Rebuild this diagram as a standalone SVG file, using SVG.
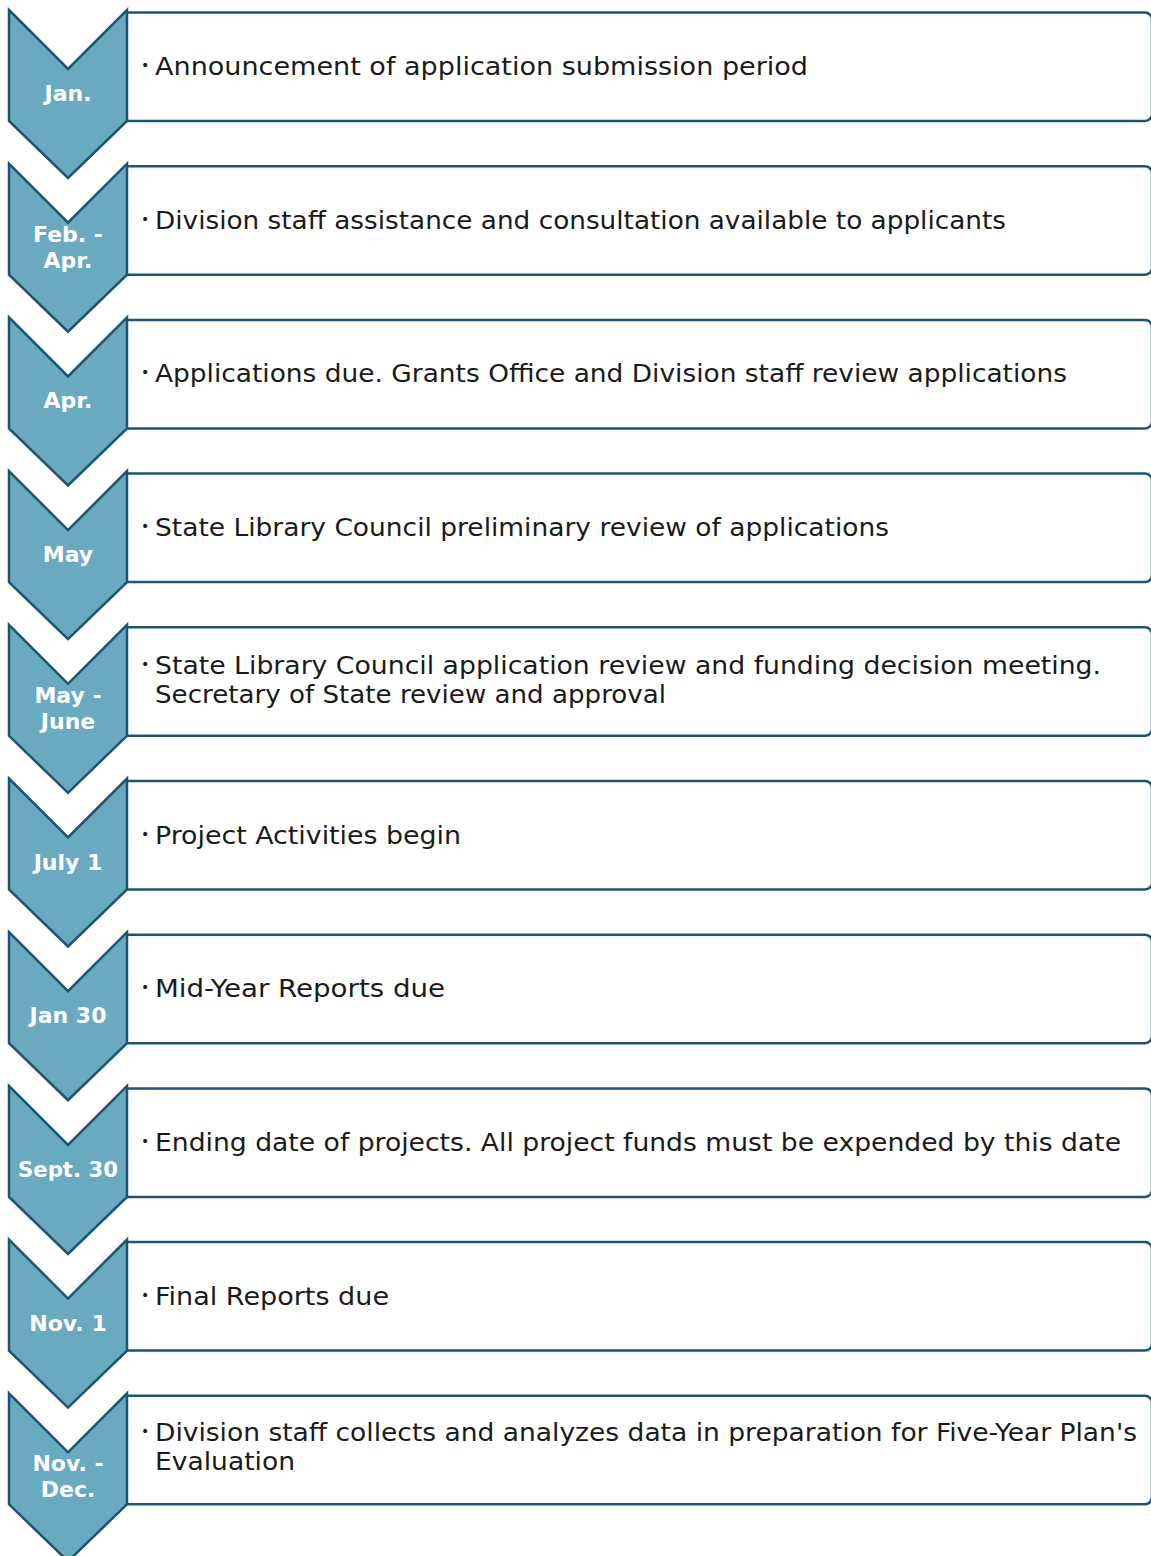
<svg xmlns="http://www.w3.org/2000/svg" width="1151" height="1556" viewBox="0 0 1151 1556">
<style>
.chev{fill:#6AAAC0;stroke:#1E5470;stroke-width:2.5;stroke-linejoin:miter}
.box{fill:#FFFFFF;stroke:#1E5470;stroke-width:2.5}
.lbl{font-family:"DejaVu Sans","Liberation Sans",sans-serif;font-weight:bold;font-size:22px;fill:#FFFFFF;text-anchor:middle}
.txt{font-family:"DejaVu Sans","Liberation Sans",sans-serif;font-size:24px;fill:#1A1A1A}
.bul{font-family:"DejaVu Sans","Liberation Sans",sans-serif;font-size:14px;fill:#1A1A1A}
</style>
<defs>
<path id="boxShape" class="box" d="M127,2.5 H1145 A7,7 0 0 1 1152,9.5 V104 A7,7 0 0 1 1145,111 H127"/>
<polygon id="chevShape" class="chev" points="9,0 68,59 127,0 127,111 68,168 9,111"/>
</defs>
<rect width="1151" height="1556" fill="#FFFFFF"/>
<g id="connectors"></g>

<g id="step1" transform="translate(0,10)">
<use href="#boxShape"/><use href="#chevShape"/>
<text class="lbl" x="68" y="91">Jan.</text>
<text class="bul" x="141" y="60">•</text>
<text class="txt" x="155" y="65" textLength="653" lengthAdjust="spacingAndGlyphs">Announcement of application submission period</text>
</g>

<g id="step2" transform="translate(0,163.7)">
<use href="#boxShape"/><use href="#chevShape"/>
<text class="lbl" x="68" y="78">Feb. -</text>
<text class="lbl" x="68" y="104">Apr.</text>
<text class="bul" x="141" y="60">•</text>
<text class="txt" x="155" y="65" textLength="851" lengthAdjust="spacingAndGlyphs">Division staff assistance and consultation available to applicants</text>
</g>

<g id="step3" transform="translate(0,317.4)">
<use href="#boxShape"/><use href="#chevShape"/>
<text class="lbl" x="68" y="91">Apr.</text>
<text class="bul" x="141" y="60">•</text>
<text class="txt" x="155" y="65" textLength="912" lengthAdjust="spacingAndGlyphs">Applications due. Grants Office and Division staff review applications</text>
</g>

<g id="step4" transform="translate(0,471.1)">
<use href="#boxShape"/><use href="#chevShape"/>
<text class="lbl" x="68" y="91">May</text>
<text class="bul" x="141" y="60">•</text>
<text class="txt" x="155" y="65" textLength="734" lengthAdjust="spacingAndGlyphs">State Library Council preliminary review of applications</text>
</g>

<g id="step5" transform="translate(0,624.8)">
<use href="#boxShape"/><use href="#chevShape"/>
<text class="lbl" x="68" y="78">May -</text>
<text class="lbl" x="68" y="104">June</text>
<text class="bul" x="141" y="44">•</text>
<text class="txt" x="155" y="49" textLength="946" lengthAdjust="spacingAndGlyphs">State Library Council application review and funding decision meeting.</text>
<text class="txt" x="155" y="78" textLength="511" lengthAdjust="spacingAndGlyphs">Secretary of State review and approval</text>
</g>

<g id="step6" transform="translate(0,778.5)">
<use href="#boxShape"/><use href="#chevShape"/>
<text class="lbl" x="68" y="91">July 1</text>
<text class="bul" x="141" y="60">•</text>
<text class="txt" x="155" y="65" textLength="306" lengthAdjust="spacingAndGlyphs">Project Activities begin</text>
</g>

<g id="step7" transform="translate(0,932.2)">
<use href="#boxShape"/><use href="#chevShape"/>
<text class="lbl" x="68" y="91">Jan 30</text>
<text class="bul" x="141" y="60">•</text>
<text class="txt" x="155" y="65" textLength="290" lengthAdjust="spacingAndGlyphs">Mid-Year Reports due</text>
</g>

<g id="step8" transform="translate(0,1085.9)">
<use href="#boxShape"/><use href="#chevShape"/>
<text class="lbl" x="68" y="91" textLength="100" lengthAdjust="spacingAndGlyphs">Sept. 30</text>
<text class="bul" x="141" y="60">•</text>
<text class="txt" x="155" y="65" textLength="966" lengthAdjust="spacingAndGlyphs">Ending date of projects. All project funds must be expended by this date</text>
</g>

<g id="step9" transform="translate(0,1239.6)">
<use href="#boxShape"/><use href="#chevShape"/>
<text class="lbl" x="68" y="91">Nov. 1</text>
<text class="bul" x="141" y="60">•</text>
<text class="txt" x="155" y="65" textLength="234" lengthAdjust="spacingAndGlyphs">Final Reports due</text>
</g>

<g id="step10" transform="translate(0,1393.3)">
<use href="#boxShape"/><use href="#chevShape"/>
<text class="lbl" x="68" y="78">Nov. -</text>
<text class="lbl" x="68" y="104">Dec.</text>
<text class="bul" x="141" y="43">•</text>
<text class="txt" x="155" y="48" textLength="982" lengthAdjust="spacingAndGlyphs">Division staff collects and analyzes data in preparation for Five-Year Plan's</text>
<text class="txt" x="155" y="77" textLength="140" lengthAdjust="spacingAndGlyphs">Evaluation</text>
</g>
</svg>
